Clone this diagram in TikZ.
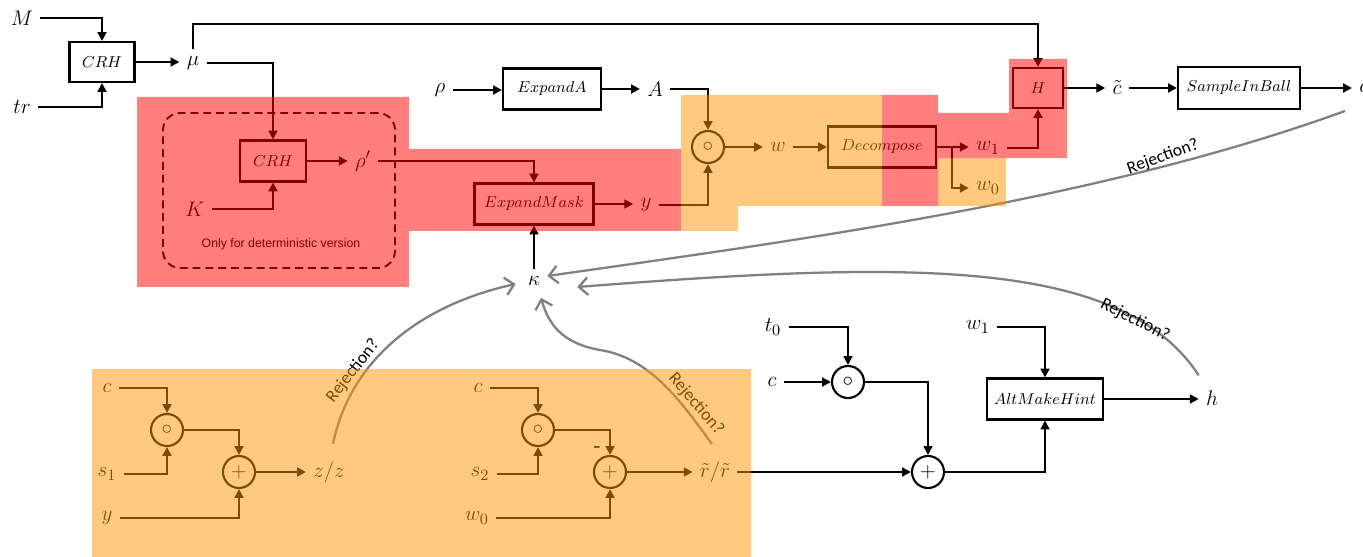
\documentclass[tikz,border=0pt]{standalone}
\usepackage{fontspec}
\setmainfont{Liberation Sans}
\newfontfamily\rejfont{Carlito}
\usetikzlibrary{arrows.meta}
\usetikzlibrary{positioning}
\definecolor{ovred}{RGB}{255,0,0}
\definecolor{ovorange}{RGB}{255,150,0}
\definecolor{rejgray}{RGB}{128,128,128}
\tikzset{
var/.style={inner sep=4pt, font=\fontsize{13}{15}\selectfont},
blk/.style={draw, line width=1.2pt, minimum height=0.82cm, inner sep=0pt, font=\fontsize{9.5}{11}\selectfont},
op/.style={draw, circle, line width=1.2pt, minimum size=0.64cm, inner sep=0pt, font=\fontsize{13}{15}\selectfont},
arr/.style={line width=1.4pt, -{Triangle[length=5pt,width=5pt]}},
rej/.style={line width=1.3pt, rejgray, -{Straight Barb[length=5pt,width=10pt]}},
rejlbl/.style={font=\rejfont\fontsize{10}{12}\selectfont, inner sep=1pt},
dashbox/.style={draw, dash pattern=on 4.5pt off 2.8pt, line width=1.1pt, rounded corners=0.34cm, minimum width=4.64cm, minimum height=3.1cm},
note/.style={font=\fontsize{7}{9}\selectfont, inner sep=1pt},
ovr/.style={fill=ovred, fill opacity=0.5},
ovo/.style={fill=ovorange, fill opacity=0.5},
}

\begin{document}
\begin{tikzpicture}[x=0.02cm, y=-0.02cm]
    \useasboundingbox (0,0) rectangle (1363,557);
    % upper row
    \node[var] (M) at (22,18) {$M$};
    \node[var] (tr) at (22,107) {$tr$};
    \node[blk, minimum width=1.3cm, minimum height=0.8cm] (crh1) at (102,62) {$CRH$};
    \node[var] (mu) at (193,63) {$\mu$};
    \coordinate (top) at (193,24);
    \node[dashbox] (det) at (279,190.5) {};
    \node[blk, minimum width=1.32cm] (crh2) at (273,161) {$CRH$};
    \node[var] (rhop) at (363,161) {$\rho'$};
    \node[var] (K) at (195,209) {$K$};
    \node[note] (detlbl) at (281,244) {Only for deterministic version};
    \node[var] (rho) at (440,90) {$\rho$};
    \node[blk, minimum width=1.96cm] (expA) at (552,89) {$ExpandA$};
    \node[var] (A) at (655,89) {$A$};
    \node[blk, minimum width=2.38cm] (emask) at (534,204) {$ExpandMask$};
    \node[var] (y) at (646,205) {$y$};
    \node[var] (kappa) at (534,281) {$\kappa$};
    \node[op] (od1) at (708,147) {$\circ$};
    \node[var] (w) at (778,147) {$w$};
    \node[blk, minimum width=2.16cm] (dec) at (882,147) {$Decompose$};
    \coordinate (split) at (952,147);
    \node[var] (w1) at (988,148) {$w_1$};
    \node[var] (w0) at (988,188) {$w_0$};
    \node[blk, minimum width=1.0cm, minimum height=0.8cm] (H) at (1038,88) {$H$};
    \node[var] (ct) at (1117,88) {$\tilde{c}$};
    \node[blk, minimum width=2.44cm, minimum height=0.84cm] (sib) at (1239,88) {$SampleInBall$};
    \node[var, anchor=west] (c) at (1352,88) {$c$};

    \draw[arr] (M.east) -| (crh1.north);
    \draw[arr] (tr.east) -| (crh1.south);
    \draw[arr] (crh1.east) -- (crh1.east -| mu.west);
    \draw[arr] (mu.north) -- (mu.north |- top) -| (H.north);
    \draw[arr] (mu.east) -| (crh2.north);
    \draw[arr] (K.east) -| (crh2.south);
    \draw[arr] (crh2.east) -- (crh2.east -| rhop.west);
    \draw[arr] (rhop.east) -| (emask.north);
    \draw[arr] (kappa.north) -- (emask.south);
    \draw[arr] (emask.east) -- (emask.east -| y.west);
    \draw[arr] (y.east) -| (od1.south);
    \draw[arr] (rho.east) -- (rho.east -| expA.west);
    \draw[arr] (expA.east) -- (expA.east -| A.west);
    \draw[arr] (A.east) -| (od1.north);
    \draw[arr] (od1.east) -- (w.west);
    \draw[arr] (w.east) -- (dec.west);
    \draw[arr] (dec.east) -- (dec.east -| w1.west);
    \draw[arr] (split) |- (w0.west);
    \draw[arr] (w1.east) -| (H.south);
    \draw[arr] (H.east) -- (ct.west);
    \draw[arr] (ct.east) -- (sib.west);
    \draw[arr] (sib.east) -- (c.west);

    % lower row
    \node[var] (c1) at (107,388) {$c$};
    \node[var] (s1) at (107,474) {$s_1$};
    \node[var] (y1) at (107,518) {$y$};
    \node[op] (od2) at (167,430) {$\circ$};
    \node[op] (pl1) at (239,472) {$+$};
    \node[var] (zz) at (329,472) {$z/z$};
    \node[var] (c2) at (478,388) {$c$};
    \node[var] (s2) at (480,474) {$s_2$};
    \node[var] (w0b) at (477,518) {$w_0$};
    \node[op] (od3) at (538,430) {$\circ$};
    \node[op] (pl2) at (610,472) {$+$};
    \node[var, inner sep=1pt] (minus) at (597,450) {-};
    \node[var] (rr) at (715,472) {$\tilde{r}/\tilde{r}$};
    \node[var] (t0) at (773,327) {$t_0$};
    \node[var] (c3) at (772,382) {$c$};
    \node[op] (od4) at (848,382) {$\circ$};
    \node[op] (pl3) at (928,472) {$+$};
    \node[var] (w1b) at (978,327) {$w_1$};
    \node[blk, minimum width=2.32cm] (amh) at (1045,399) {$AltMakeHint$};
    \node[var] (h) at (1212,398) {$h$};

    \draw[arr] (c1.east) -| (od2.north);
    \draw[arr] (s1.east) -| (od2.south);
    \draw[arr] (od2.east) -| (pl1.north);
    \draw[arr] (y1.east) -| (pl1.south);
    \draw[arr] (pl1.east) -- (pl1.east -| zz.west);
    \draw[arr] (c2.east) -| (od3.north);
    \draw[arr] (s2.east) -| (od3.south);
    \draw[arr] (od3.east) -| (pl2.north);
    \draw[arr] (w0b.east) -| (pl2.south);
    \draw[arr] (pl2.east) -- (pl2.east -| rr.west);
    \draw[arr] (rr.east) -- (pl3.west);
    \draw[arr] (t0.east) -| (od4.north);
    \draw[arr] (c3.east) -- (od4.west);
    \draw[arr] (od4.east) -| (pl3.north);
    \draw[arr] (pl3.east) -| (amh.south);
    \draw[arr] (w1b.east) -| (amh.north);
    \draw[arr] (amh.east) -- (amh.east -| h.west);

    % rejection loops
    \draw[rej] ([xshift=-0.14cm,yshift=-0.46cm]c.west) .. controls (1100,200) and (800,240) .. ([yshift=0.1cm]kappa.east);
    \draw[rej] ([yshift=0.16cm]h.north west) .. controls (1120,255) and (900,262) .. ([xshift=0.6cm,yshift=-0.12cm]kappa.east);
    \draw[rej] ([xshift=0.08cm,yshift=0.2cm]zz.north) .. controls (350,360) and (420,305) .. ([xshift=-0.1cm,yshift=-0.06cm]kappa.west);
    \draw[rej] ([xshift=-0.06cm,yshift=0.2cm]rr.north) .. controls (680,400) and (650,358) .. (600,350)
        .. controls (560,343) and (548,322) .. ([xshift=0.14cm,yshift=-0.1cm]kappa.south);
    \node[rejlbl, rotate=20] (rej1) at (1163,157) {Rejection?};
    \node[rejlbl, rotate=-27] (rej2) at (1135,320) {Rejection?};
    \node[rejlbl, rotate=52] (rej3) at (353,371) {Rejection?};
    \node[rejlbl, rotate=-49] (rej4) at (696,404) {Rejection?};

    % highlighted areas
    \fill[ovr] (137,97) -- (409,97) -- (409,149) -- (681,149) -- (681,231) -- (409,231) -- (409,287) -- (137,287) -- cycle;
    \fill[ovr] (882,95) -- (938,95) -- (938,113) -- (1009,113) -- (1009,59) -- (1067,59) -- (1067,158) -- (938,158) -- (938,206) -- (882,206) -- cycle;
    \fill[ovo] (681,95) -- (882,95) -- (882,206) -- (738,206) -- (738,231) -- (681,231) -- cycle;
    \fill[ovo] (938,158) rectangle (1006,206);
    \fill[ovo] (92,369) rectangle (751,557);
\end{tikzpicture}
\end{document}
